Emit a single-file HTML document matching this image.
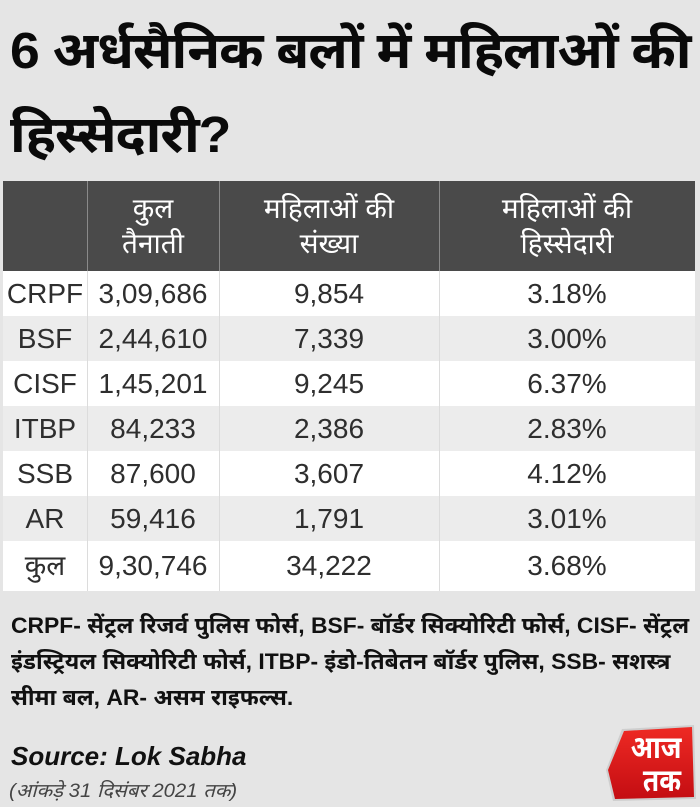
<!DOCTYPE html>
<html>
<head>
<meta charset="utf-8">
<style>
  html, body { margin:0; padding:0; }
  body { width:700px; height:807px; background:#e5e5e5; position:relative; overflow:hidden;
         font-family:"Liberation Sans","Noto Sans Devanagari","Lohit Devanagari","Mukta","FreeSans",sans-serif; }
  .abs { position:absolute; white-space:nowrap; }
  .title { left:10px; font-size:51px; font-weight:bold; color:#0a0a0a; line-height:60px; letter-spacing:-1px; transform-origin:0 50%; transform:scaleX(1.05); }
  .cell { position:absolute; display:flex; align-items:center; justify-content:center; font-size:28px; color:#2e2e2e; line-height:45px; }
  .hcell { position:absolute; display:flex; flex-direction:column; align-items:center; justify-content:center; font-size:28px; color:#fff; line-height:35px; top:181px; height:90px; }
  .vline { position:absolute; width:1px; }
  .foot { left:11px; font-size:22px; font-weight:bold; color:#111; line-height:36px; transform-origin:0 0; transform:scaleX(1.04); }
</style>
</head>
<body>

<div class="abs title" style="top:21px;">6 अर्धसैनिक बलों में महिलाओं की</div>
<div class="abs title" style="top:105px;">हिस्सेदारी?</div>

<!-- table header -->
<div class="abs" style="left:3px; top:181px; width:692px; height:90px; background:#4a4a4a;"></div>
<div class="hcell" style="left:87px; width:132px;"><span>कुल</span><span>तैनाती</span></div>
<div class="hcell" style="left:219px; width:220px;"><span>महिलाओं की</span><span>संख्या</span></div>
<div class="hcell" style="left:439px; width:256px;"><span>महिलाओं की</span><span>हिस्सेदारी</span></div>

<!-- rows backgrounds -->
<div class="abs" style="left:3px; top:271px; width:692px; height:45px; background:#ffffff;"></div>
<div class="abs" style="left:3px; top:316px; width:692px; height:45px; background:#ececec;"></div>
<div class="abs" style="left:3px; top:361px; width:692px; height:45px; background:#ffffff;"></div>
<div class="abs" style="left:3px; top:406px; width:692px; height:45px; background:#ececec;"></div>
<div class="abs" style="left:3px; top:451px; width:692px; height:45px; background:#ffffff;"></div>
<div class="abs" style="left:3px; top:496px; width:692px; height:45px; background:#ececec;"></div>
<div class="abs" style="left:3px; top:541px; width:692px; height:50px; background:#ffffff;"></div>

<!-- vertical dividers -->
<div class="vline" style="left:87px; top:181px; height:90px; background:#8a8a8a;"></div>
<div class="vline" style="left:219px; top:181px; height:90px; background:#8a8a8a;"></div>
<div class="vline" style="left:439px; top:181px; height:90px; background:#8a8a8a;"></div>
<div class="vline" style="left:87px; top:271px; height:320px; background:#dcdcdc;"></div>
<div class="vline" style="left:219px; top:271px; height:320px; background:#dcdcdc;"></div>
<div class="vline" style="left:439px; top:271px; height:320px; background:#dcdcdc;"></div>

<!-- row: CRPF -->
<div class="cell" style="left:3px; width:84px; top:271px; height:45px;">CRPF</div>
<div class="cell" style="left:87px; width:132px; top:271px; height:45px;">3,09,686</div>
<div class="cell" style="left:219px; width:220px; top:271px; height:45px;">9,854</div>
<div class="cell" style="left:439px; width:256px; top:271px; height:45px;">3.18%</div>
<!-- BSF -->
<div class="cell" style="left:3px; width:84px; top:316px; height:45px;">BSF</div>
<div class="cell" style="left:87px; width:132px; top:316px; height:45px;">2,44,610</div>
<div class="cell" style="left:219px; width:220px; top:316px; height:45px;">7,339</div>
<div class="cell" style="left:439px; width:256px; top:316px; height:45px;">3.00%</div>
<!-- CISF -->
<div class="cell" style="left:3px; width:84px; top:361px; height:45px;">CISF</div>
<div class="cell" style="left:87px; width:132px; top:361px; height:45px;">1,45,201</div>
<div class="cell" style="left:219px; width:220px; top:361px; height:45px;">9,245</div>
<div class="cell" style="left:439px; width:256px; top:361px; height:45px;">6.37%</div>
<!-- ITBP -->
<div class="cell" style="left:3px; width:84px; top:406px; height:45px;">ITBP</div>
<div class="cell" style="left:87px; width:132px; top:406px; height:45px;">84,233</div>
<div class="cell" style="left:219px; width:220px; top:406px; height:45px;">2,386</div>
<div class="cell" style="left:439px; width:256px; top:406px; height:45px;">2.83%</div>
<!-- SSB -->
<div class="cell" style="left:3px; width:84px; top:451px; height:45px;">SSB</div>
<div class="cell" style="left:87px; width:132px; top:451px; height:45px;">87,600</div>
<div class="cell" style="left:219px; width:220px; top:451px; height:45px;">3,607</div>
<div class="cell" style="left:439px; width:256px; top:451px; height:45px;">4.12%</div>
<!-- AR -->
<div class="cell" style="left:3px; width:84px; top:496px; height:45px;">AR</div>
<div class="cell" style="left:87px; width:132px; top:496px; height:45px;">59,416</div>
<div class="cell" style="left:219px; width:220px; top:496px; height:45px;">1,791</div>
<div class="cell" style="left:439px; width:256px; top:496px; height:45px;">3.01%</div>
<!-- Total -->
<div class="cell" style="left:3px; width:84px; top:543px; height:45px;">कुल</div>
<div class="cell" style="left:87px; width:132px; top:543px; height:45px;">9,30,746</div>
<div class="cell" style="left:219px; width:220px; top:543px; height:45px;">34,222</div>
<div class="cell" style="left:439px; width:256px; top:543px; height:45px;">3.68%</div>

<!-- footer notes -->
<div class="abs foot" style="top:608px;">CRPF- सेंट्रल रिजर्व पुलिस फोर्स, BSF- बॉर्डर सिक्योरिटी फोर्स, CISF- सेंट्रल<br>इंडस्ट्रियल सिक्योरिटी फोर्स, ITBP- इंडो-तिबेतन बॉर्डर पुलिस, SSB- सशस्त्र<br>सीमा बल, AR- असम राइफल्स.</div>

<div class="abs" style="left:11px; top:741px; font-size:26px; font-weight:bold; font-style:italic; color:#111; line-height:30px;">Source: Lok Sabha</div>
<div class="abs" style="left:9px; top:781px; font-size:19px; font-style:italic; color:#444; line-height:22px; transform-origin:0 0; transform:scaleX(1.07);">(आंकड़े 31 दिसंबर 2021 तक)</div>

<!-- logo -->
<svg class="abs" style="left:600px; top:720px;" width="100" height="87" viewBox="0 0 100 87">
  <defs>
    <linearGradient id="rg" x1="0" y1="0" x2="0" y2="1">
      <stop offset="0" stop-color="#ee2a24"/>
      <stop offset="1" stop-color="#c40d12"/>
    </linearGradient>
  </defs>
  <polygon points="22,9 94,5 96,79 13,81 6,50" fill="#c4c4c4" opacity="0.7"/>
  <polygon points="24,11 92,7 94,77 15,79 8,50" fill="url(#rg)"/>
  <g transform="translate(56,0) scale(0.85,1)">
    <text x="0" y="38" text-anchor="middle" font-size="31" font-weight="bold" fill="#fff" font-family="'Noto Sans Devanagari','Lohit Devanagari','Liberation Sans',sans-serif">आज</text>
  </g>
  <g transform="translate(62,0) scale(0.85,1)">
    <text x="0" y="71" text-anchor="middle" font-size="31" font-weight="bold" fill="#fff" font-family="'Noto Sans Devanagari','Lohit Devanagari','Liberation Sans',sans-serif">तक</text>
  </g>
</svg>

</body>
</html>
